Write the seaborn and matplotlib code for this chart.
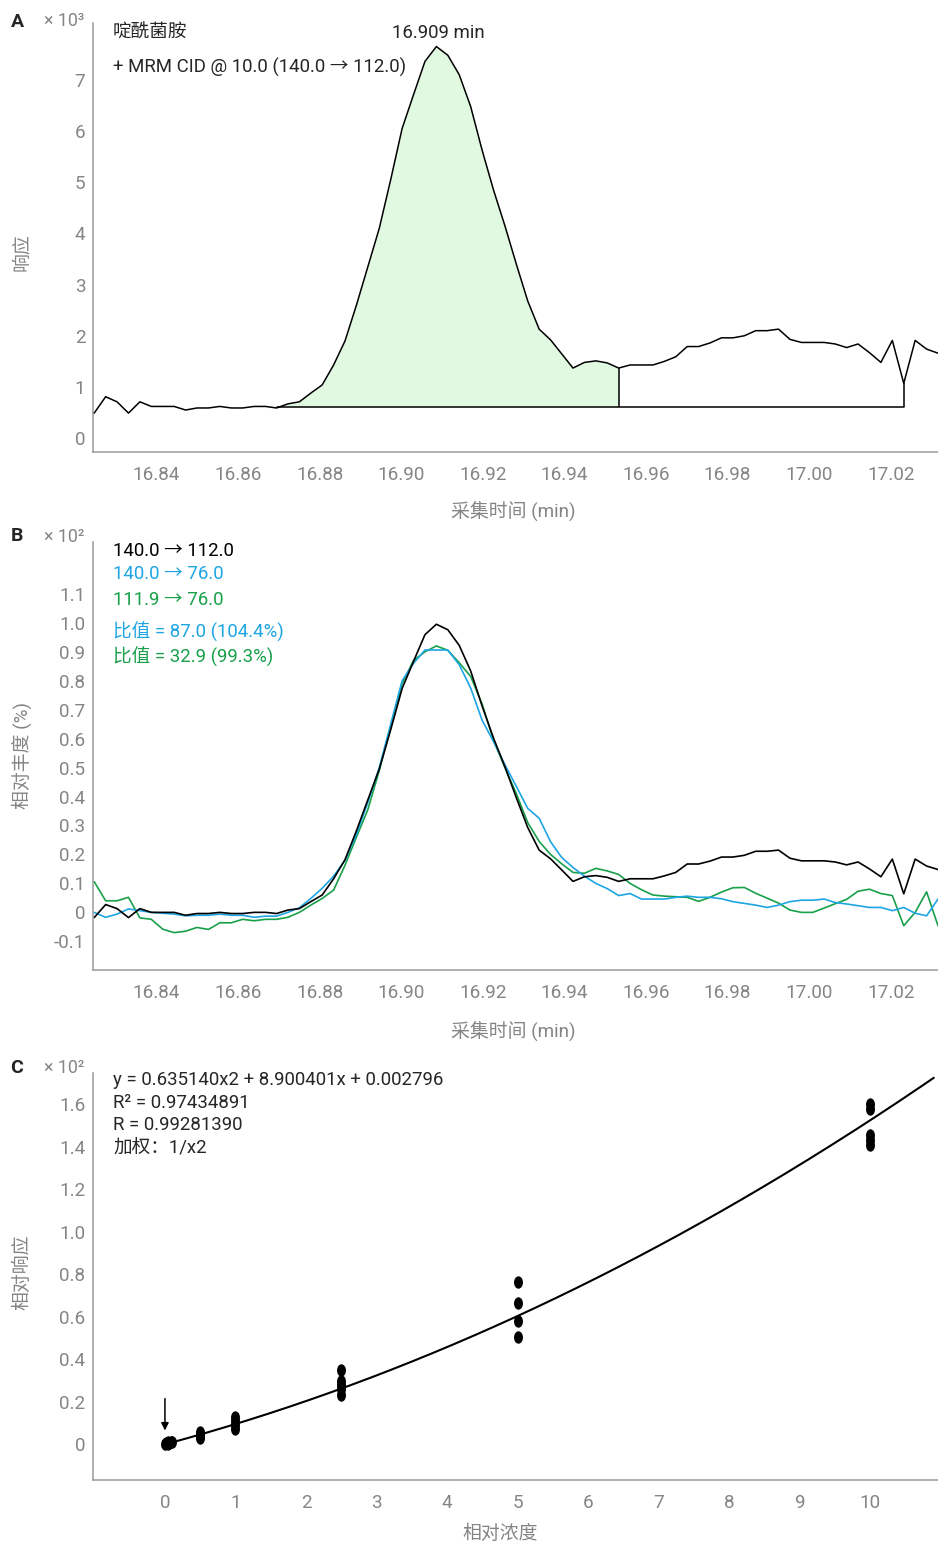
import numpy as np
import pandas as pd
import matplotlib
matplotlib.use("Agg")
import matplotlib.pyplot as plt
import seaborn as sns
from matplotlib.markers import MarkerStyle
from matplotlib.transforms import Affine2D
from matplotlib.ticker import MultipleLocator, FixedLocator

# ---------------- data ----------------
time_min = [16.8247, 16.8275, 16.8303, 16.8331, 16.8359, 16.8387, 16.8415, 16.8443, 16.8471, 16.8499,
            16.8527, 16.8555, 16.8583, 16.8611, 16.8639, 16.8667, 16.8694, 16.8722, 16.8750, 16.8778,
            16.8806, 16.8834, 16.8862, 16.8890, 16.8918, 16.8946, 16.8974, 16.9002, 16.9030, 16.9058,
            16.9086, 16.9114, 16.9142, 16.9170, 16.9198, 16.9226, 16.9254, 16.9282, 16.9310, 16.9338,
            16.9366, 16.9393, 16.9421, 16.9449, 16.9477, 16.9505, 16.9533, 16.9561, 16.9589, 16.9617,
            16.9645, 16.9673, 16.9701, 16.9729, 16.9757, 16.9785, 16.9813, 16.9841, 16.9869, 16.9897,
            16.9925, 16.9953, 16.9981, 17.0009, 17.0037, 17.0064, 17.0092, 17.0120, 17.0148, 17.0176,
            17.0204, 17.0232, 17.0260, 17.0288, 17.0316]

# panel A response (x 10^3)
resp_A = [0.49, 0.81, 0.71, 0.49, 0.71, 0.62, 0.62, 0.62, 0.55, 0.59,
          0.59, 0.62, 0.59, 0.59, 0.62, 0.62, 0.59, 0.67, 0.71, 0.88,
          1.04, 1.43, 1.90, 2.60, 3.35, 4.10, 5.05, 6.05, 6.71, 7.36,
          7.65, 7.48, 7.10, 6.48, 5.63, 4.85, 4.15, 3.40, 2.68, 2.13,
          1.92, 1.65, 1.37, 1.48, 1.51, 1.47, 1.37, 1.43, 1.43, 1.43,
          1.50, 1.59, 1.79, 1.79, 1.86, 1.96, 1.96, 2.00, 2.10, 2.10,
          2.13, 1.93, 1.87, 1.87, 1.87, 1.84, 1.77, 1.84, 1.67, 1.48,
          1.91, 1.07, 1.91, 1.74, 1.66]
baseline_A = 0.617
peak_start_idx, peak_split_idx, peak_end_idx = 16, 46, 71
peak_rt = 16.909

# panel B relative abundance (x 10^2 %)
rel_140_112 = [-0.018, 0.027, 0.013, -0.018, 0.013, 0.0, 0.0, 0.0, -0.010, -0.004,
               -0.004, 0.0, -0.004, -0.004, 0.0, 0.0, -0.004, 0.008, 0.013, 0.037,
               0.060, 0.116, 0.182, 0.282, 0.389, 0.495, 0.631, 0.773, 0.867, 0.959,
               0.995, 0.976, 0.922, 0.834, 0.713, 0.602, 0.503, 0.396, 0.293, 0.215,
               0.185, 0.147, 0.107, 0.123, 0.127, 0.121, 0.107, 0.116, 0.116, 0.116,
               0.126, 0.138, 0.167, 0.167, 0.177, 0.191, 0.191, 0.197, 0.211, 0.211,
               0.215, 0.187, 0.178, 0.178, 0.178, 0.174, 0.164, 0.174, 0.150, 0.123,
               0.184, 0.064, 0.184, 0.160, 0.148]
rel_140_76 = [0.0, -0.017, -0.006, 0.012, 0.006, 0.0, -0.003, -0.006, -0.012, -0.010,
              -0.010, -0.006, -0.010, -0.010, -0.017, -0.013, -0.013, 0.0, 0.016, 0.048,
              0.083, 0.125, 0.18, 0.27, 0.38, 0.50, 0.65, 0.80, 0.86, 0.906,
              0.906, 0.906, 0.855, 0.775, 0.664, 0.59, 0.51, 0.435, 0.359, 0.325,
              0.244, 0.19, 0.155, 0.125, 0.10, 0.082, 0.058, 0.065, 0.046, 0.046,
              0.046, 0.052, 0.056, 0.052, 0.052, 0.047, 0.037, 0.031, 0.025, 0.017,
              0.025, 0.037, 0.042, 0.042, 0.046, 0.034, 0.029, 0.023, 0.017, 0.017,
              0.006, 0.017, -0.003, -0.012, 0.046]
rel_111_76 = [0.106, 0.040, 0.040, 0.052, -0.019, -0.024, -0.058, -0.070, -0.065, -0.052,
              -0.059, -0.036, -0.036, -0.024, -0.029, -0.024, -0.024, -0.017, 0.0, 0.025,
              0.048, 0.077, 0.163, 0.26, 0.355, 0.49, 0.64, 0.79, 0.87, 0.90,
              0.92, 0.905, 0.862, 0.815, 0.72, 0.595, 0.50, 0.41, 0.31, 0.245,
              0.20, 0.168, 0.138, 0.135, 0.152, 0.143, 0.131, 0.10, 0.078, 0.06,
              0.056, 0.054, 0.052, 0.038, 0.052, 0.07, 0.085, 0.086, 0.066, 0.049,
              0.032, 0.008, 0.0, 0.0, 0.015, 0.03, 0.045, 0.073, 0.080, 0.065,
              0.058, -0.046, 0.0, 0.071, -0.046]

# panel C calibration
conc = [0, 0.02, 0.05, 0.08, 0.1, 0.05,
        0.5, 0.5, 0.5, 0.5,
        1, 1, 1, 1,
        2.5, 2.5, 2.5, 2.5, 2.5,
        5, 5, 5, 5,
        10, 10, 10, 10, 10]
rel_resp = [0.0, 0.005, 0.0, 0.01, 0.012, 0.01,
            0.03, 0.04, 0.05, 0.06,
            0.07, 0.09, 0.11, 0.13,
            0.35, 0.30, 0.28, 0.26, 0.23,
            0.765, 0.666, 0.582, 0.504,
            1.60, 1.58, 1.455, 1.43, 1.41]
fit_coef = [0.635140, 8.900401, 0.002796]   # a x^2 + b x + c
fit_xmax = 10.9

x_ticks_time = [16.84, 16.86, 16.88, 16.90, 16.92, 16.94, 16.96, 16.98, 17.00, 17.02]

# ---------------- style ----------------
sns.set_theme(style="white")
plt.rcParams["font.family"] = ["Roboto", "Noto Sans CJK SC", "DejaVu Sans"]
plt.rcParams["axes.unicode_minus"] = False

GRAY_SPINE = "#9a9a9a"
GRAY_TXT = "#858585"
BLUE = "#1ea5e3"
GREEN = "#18a04a"
FILL = "#e1f8e1"
W, H = 938, 1545
FS = 13.4      # annotation text size
TICK_FS = 13.6
LAB_FS = 13.6

fig = plt.figure(figsize=(W / 100, H / 100), dpi=100)


def ax_px(left, top, right, bottom):
    return fig.add_axes([left / W, 1 - bottom / H, (right - left) / W, (bottom - top) / H])


def ftext(x, y, s, **kw):
    fig.text(x / W, 1 - y / H, s, **kw)


def style_axes(ax):
    for s in ["top", "right"]:
        ax.spines[s].set_visible(False)
    for s in ["left", "bottom"]:
        ax.spines[s].set_color(GRAY_SPINE)
        ax.spines[s].set_linewidth(1.1)
    ax.tick_params(axis="both", which="both", direction="out", color=GRAY_SPINE,
                   labelcolor=GRAY_TXT, labelsize=TICK_FS, width=1.0)
    ax.tick_params(axis="x", which="major", length=6, pad=4)
    ax.tick_params(axis="y", which="both", length=4.5, pad=1)
    ax.set_xlabel("")
    ax.set_ylabel("")
    ax.grid(False)


t = np.array(time_min)
yA = np.array(resp_A)

# ---------------- Panel A ----------------
axA = ax_px(93, 23, 938, 452)
sl = slice(peak_start_idx, peak_split_idx + 1)
axA.fill_between(t[sl], yA[sl], baseline_A, color=FILL, lw=0, zorder=1)
sns.lineplot(x=time_min, y=resp_A, ax=axA, color="black", lw=1.1, estimator=None, sort=False, zorder=3)
axA.plot([t[peak_start_idx], t[peak_end_idx]], [baseline_A, baseline_A], color="black", lw=1.1, zorder=2)
axA.vlines([t[peak_split_idx], t[peak_end_idx]], baseline_A,
           [yA[peak_split_idx], yA[peak_end_idx]], color="black", lw=1.1, zorder=2)
axA.set_xlim(16.8244, 17.0316)
axA.set_ylim(-0.27, 8.11)
axA.yaxis.set_major_locator(FixedLocator(list(range(9))))
axA.set_yticklabels([str(i) for i in range(8)] + [""])
axA.yaxis.set_minor_locator(MultipleLocator(0.5))
axA.set_xticks(x_ticks_time)
axA.set_xticklabels([f"{v:.2f}" for v in x_ticks_time])
style_axes(axA)
axA.text(0.0237, 0.977, "啶酰菌胺", transform=axA.transAxes, fontsize=FS, va="center", ha="left")
axA.text(0.0237, 0.897, "+ MRM CID @ 10.0 (140.0 → 112.0)", transform=axA.transAxes,
         fontsize=FS, va="center", ha="left")
axA.text(peak_rt, 0.977, f"{peak_rt:.3f} min", transform=axA.get_xaxis_transform(),
         fontsize=FS, va="center", ha="center")

# ---------------- Panel B ----------------
axB = ax_px(93, 541.7, 938, 970)
dfB = pd.DataFrame({"t": time_min, "a": rel_140_112, "b": rel_140_76, "c": rel_111_76})
sns.lineplot(data=dfB, x="t", y="c", ax=axB, color=GREEN, lw=1.2, estimator=None, sort=False)
sns.lineplot(data=dfB, x="t", y="b", ax=axB, color=BLUE, lw=1.2, estimator=None, sort=False)
sns.lineplot(data=dfB, x="t", y="a", ax=axB, color="black", lw=1.2, estimator=None, sort=False)
axB.set_xlim(16.8244, 17.0316)
axB.set_ylim(-0.199, 1.28)
yt = [round(-0.1 + 0.1 * i, 1) for i in range(14)]
axB.yaxis.set_major_locator(FixedLocator(yt))
axB.set_yticklabels(["-0.1", "0"] + [f"{v:.1f}" for v in yt[2:-1]] + [""])
axB.set_xticks(x_ticks_time)
axB.set_xticklabels([f"{v:.2f}" for v in x_ticks_time])
style_axes(axB)
ftext(113, 551, "140.0 → 112.0", color="black", fontsize=FS, va="center")
ftext(113, 574, "140.0 → 76.0", color=BLUE, fontsize=FS, va="center")
ftext(113, 600, "111.9 → 76.0", color=GREEN, fontsize=FS, va="center")
ftext(113, 632, "比值 = 87.0 (104.4%)", color=BLUE, fontsize=FS, va="center")
ftext(113, 657, "比值 = 32.9 (99.3%)", color=GREEN, fontsize=FS, va="center")

# ---------------- Panel C ----------------
axC = ax_px(93, 1073.3, 938, 1480)
xs = np.linspace(0, fit_xmax, 300)
a, b, c = fit_coef
ys = (a * xs ** 2 + b * xs + c) / 100.0
sns.lineplot(x=xs, y=ys, ax=axC, color="black", lw=1.5, estimator=None, sort=False)
ell = MarkerStyle("o", transform=Affine2D().scale(0.72, 1.0))
sns.scatterplot(x=conc, y=rel_resp, ax=axC, marker=ell, s=80, color="black",
                edgecolor="black", linewidth=0, zorder=4)
axC.annotate("", xy=(min(conc), 0.065), xytext=(min(conc), 0.215),
             arrowprops=dict(arrowstyle="-|>", color="black", lw=1.1, mutation_scale=11,
                             shrinkA=0, shrinkB=0))
axC.set_xlim(-1.02, 10.96)
axC.set_ylim(-0.168, 1.746)
axC.set_xticks(list(range(11)))
axC.set_xticklabels([str(i) for i in range(11)])
yc = [round(0.2 * i, 1) for i in range(9)]
axC.set_yticks(yc)
axC.set_yticklabels(["0"] + [f"{v:.1f}" for v in yc[1:]])
style_axes(axC)
ftext(113, 1080, f"y = {a:.6f}x2 + {b:.6f}x + {c:.6f}", fontsize=FS, va="center")
ftext(113, 1103, "R² = 0.97434891", fontsize=FS, va="center")
ftext(113, 1125, "R = 0.99281390", fontsize=FS, va="center")
ftext(113, 1148, "加权：1/x2", fontsize=FS, va="center")

# ---------------- panel letters, multipliers, axis titles ----------------
for letter, y in [("A", 22), ("B", 536), ("C", 1068)]:
    ftext(17, y, letter, fontsize=14, weight="bold", ha="center", va="center")
ftext(44, 21, "× 10³", fontsize=12.8, color=GRAY_TXT, va="center")
ftext(44, 537, "× 10²", fontsize=12.8, color=GRAY_TXT, va="center")
ftext(44, 1068, "× 10²", fontsize=12.8, color=GRAY_TXT, va="center")

ftext(22, 252, "响应", fontsize=LAB_FS, color=GRAY_TXT, rotation=90, ha="center", va="center")
ftext(22, 755, "相对丰度 (%)", fontsize=LAB_FS, color=GRAY_TXT, rotation=90, ha="center", va="center")
ftext(22, 1272, "相对响应", fontsize=LAB_FS, color=GRAY_TXT, rotation=90, ha="center", va="center")
ftext(513, 511, "采集时间 (min)", fontsize=LAB_FS, color=GRAY_TXT, ha="center", va="center")
ftext(513, 1031, "采集时间 (min)", fontsize=LAB_FS, color=GRAY_TXT, ha="center", va="center")
ftext(500, 1534, "相对浓度", fontsize=LAB_FS, color=GRAY_TXT, ha="center", va="center")

fig.savefig("out.png", dpi=100)
